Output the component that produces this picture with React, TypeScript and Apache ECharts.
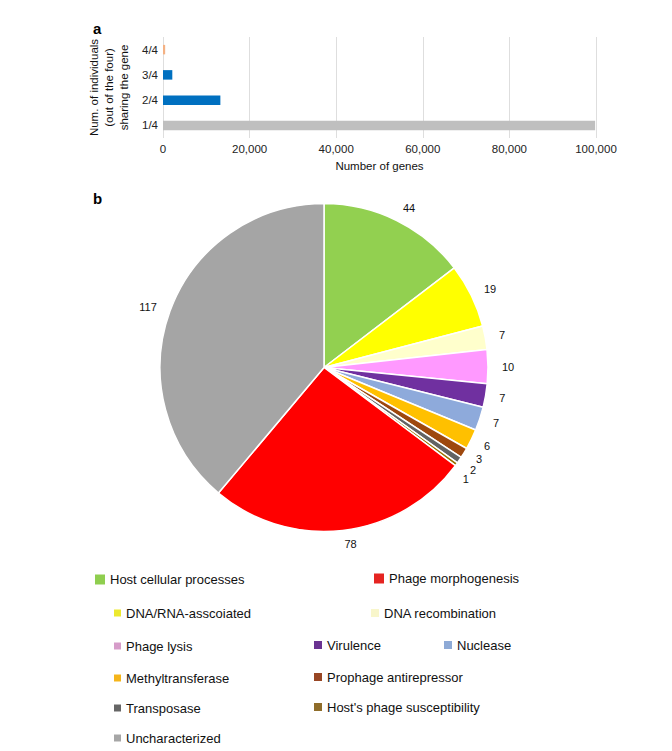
import { useEffect, useRef } from 'react';
import * as echarts from 'echarts';

// panel a: genes shared by 1..4 individuals
const shareLevels = ['1/4', '2/4', '3/4', '4/4'];
const geneCounts = [99800, 13250, 2150, 500];
const barColors = ['#bfbfbf', '#0070c0', '#0070c0', '#f4b183'];
const geneTicks = [0, 20000, 40000, 60000, 80000, 100000];

// panel b: functional categories (clockwise from 12 o'clock)
const categories = [
  'Host cellular processes',
  'DNA/RNA-asscoiated',
  'DNA recombination',
  'Phage lysis',
  'Virulence',
  'Nuclease',
  'Methyltransferase',
  'Prophage antirepressor',
  'Transposase',
  "Host's phage susceptibility",
  'Phage morphogenesis',
  'Uncharacterized',
];
const categoryCounts = [44, 19, 7, 10, 7, 7, 6, 3, 2, 1, 78, 117];
const sliceColors = [
  '#92d050', '#ffff00', '#ffffcc', '#ff99ff', '#7030a0', '#8eaadb',
  '#ffc000', '#9e480e', '#636363', '#997300', '#ff0000', '#a5a5a5',
];
const legendColors = [
  '#8fce4f', '#ece92f', '#f8f6cb', '#d69cc9', '#6a3391', '#8eaad6',
  '#f5b51b', '#984624', '#666666', '#8f6d2a', '#e52421', '#a6a6a6',
];
// legend item spots: [left, centre y, swatch size]
const legendSpots: [number, number, number][] = [
  [93, 580, 12],
  [112, 614, 9],
  [369, 614, 10],
  [112, 647, 9],
  [312, 646, 10],
  [442, 646, 10],
  [112, 679, 9],
  [312, 678, 10],
  [112, 709, 9],
  [312, 708, 10],
  [372, 579, 12],
  [112, 739, 9],
];
// small nudges so the labels of the thinnest slices fan out like the original
const labelNudge: Record<number, { dx: number; dy: number }> = {
  7: { dx: 0, dy: -1 },
  8: { dx: -1, dy: 2 },
  9: { dx: -5, dy: 6 },
};

const FONT = "'Liberation Sans', Arial, Helvetica, sans-serif";

export default function App() {
  const chartRef = useRef<HTMLDivElement>(null);

  useEffect(() => {
    if (!chartRef.current) return;
    const chart = echarts.init(chartRef.current, null, { renderer: 'svg' });

    const legends = categories.map((name, i) => {
      const [left, cy, size] = legendSpots[i];
      return {
        left,
        top: cy - 7.5,
        padding: 0,
        icon: 'rect',
        itemWidth: size,
        itemHeight: size,
        selectedMode: false,
        textStyle: { fontSize: 13, color: '#111', fontFamily: FONT, padding: [0, 0, 0, -1] },
        data: [{ name, itemStyle: { color: legendColors[i] } }],
      };
    });

    const option: echarts.EChartsOption = {
      animation: false,
      textStyle: { fontFamily: FONT },
      graphic: [
        { type: 'text', left: 93, top: 21, style: { text: 'a', fontSize: 15, fontWeight: 'bold', fill: '#000', fontFamily: FONT } },
        { type: 'text', left: 93, top: 191, style: { text: 'b', fontSize: 15, fontWeight: 'bold', fill: '#000', fontFamily: FONT } },
      ],
      legend: legends as any,
      grid: { left: 163, top: 37, width: 433, height: 101 },
      xAxis: {
        type: 'value',
        min: geneTicks[0],
        max: geneTicks[geneTicks.length - 1],
        interval: geneTicks[1] - geneTicks[0],
        name: 'Number of genes',
        nameLocation: 'middle',
        nameGap: 22,
        nameTextStyle: { fontSize: 11.5, color: '#111' },
        axisLine: { show: false },
        axisTick: { show: false },
        axisLabel: {
          fontSize: 11.5,
          color: '#222',
          margin: 5,
          formatter: (v: number) => v.toLocaleString('en-US'),
        },
        splitLine: { lineStyle: { color: '#dedede', width: 1 } },
      },
      yAxis: {
        type: 'category',
        data: shareLevels,
        name: 'Num. of individuals\n(out of the four)\nsharing the gene',
        nameLocation: 'middle',
        nameRotate: 90,
        nameGap: 21,
        nameTextStyle: { fontSize: 11.5, color: '#111', lineHeight: 15, align: 'center' },
        axisLine: { show: false },
        axisTick: { show: false },
        axisLabel: { fontSize: 11.5, color: '#222', margin: 5 },
      },
      series: [
        {
          type: 'bar',
          barWidth: 9.5,
          data: geneCounts.map((v, i) => ({ value: v, itemStyle: { color: barColors[i] } })),
          silent: true,
        },
        {
          type: 'pie',
          center: [324, 367.5],
          radius: 164,
          startAngle: 90,
          clockwise: true,
          silent: true,
          avoidLabelOverlap: false,
          labelLayout: (p: any) => ({ hideOverlap: false, ...(labelNudge[p.dataIndex] || {}) }),
          itemStyle: { borderColor: '#fff', borderWidth: 1.5 },
          label: {
            position: 'outside',
            formatter: '{c}',
            fontSize: 11,
            color: '#111',
            distanceToLabelLine: 0,
          },
          labelLine: { show: false, length: 14, length2: 0 },
          data: categories.map((name, i) => ({
            name,
            value: categoryCounts[i],
            itemStyle: { color: sliceColors[i] },
          })),
        },
      ],
    };

    chart.setOption(option);
    return () => chart.dispose();
  }, []);

  return (
    <div
      ref={chartRef}
      style={{ position: 'absolute', left: 0, top: 0, width: 672, height: 751, background: '#fff' }}
    />
  );
}
